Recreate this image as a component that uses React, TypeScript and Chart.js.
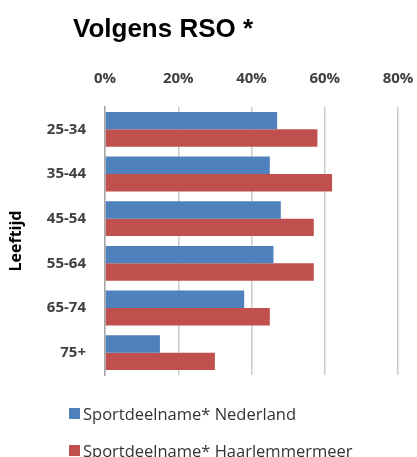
import React, { useEffect, useRef } from "react";
import { Chart, registerables } from "chart.js";

Chart.register(...registerables);

const title = "Volgens RSO *";
const axisTitle = "Leeftijd";
const categories = ["25-34", "35-44", "45-54", "55-64", "65-74", "75+"];
const nederland = [47, 45, 48, 46, 38, 15];
const haarlemmermeer = [58, 62, 57, 57, 45, 30];
const seriesNames = ["Sportdeelname* Nederland", "Sportdeelname* Haarlemmermeer"];
const seriesColors = ["#4F81BD", "#C0504D"];
const xMin = 0;
const xMax = 80;
const xStep = 20;

export default function App() {
  const ref = useRef<HTMLCanvasElement | null>(null);

  useEffect(() => {
    if (!ref.current) return;
    const chart = new Chart(ref.current, {
      type: "bar",
      data: {
        labels: categories,
        datasets: [
          {
            label: seriesNames[0],
            data: nederland,
            backgroundColor: seriesColors[0],
            categoryPercentage: 0.78,
            barPercentage: 1,
          },
          {
            label: seriesNames[1],
            data: haarlemmermeer,
            backgroundColor: seriesColors[1],
            categoryPercentage: 0.78,
            barPercentage: 1,
          },
        ],
      },
      options: {
        indexAxis: "y",
        animation: false,
        responsive: false,
        maintainAspectRatio: false,
        layout: { padding: { top: 70, right: 19, bottom: 82, left: 0 } },
        plugins: {
          legend: { display: false },
          title: { display: false },
          tooltip: { enabled: false },
        },
        scales: {
          x: {
            position: "top",
            min: xMin,
            max: xMax,
            ticks: {
              stepSize: xStep,
              callback: (v: any) => v + "%",
              font: { family: "'Open Sans'", size: 15, weight: "bold" },
              color: "#404040",
              padding: 0,
            },
            grid: {
              color: "#cbcbcb",
              lineWidth: 1.5,
              drawTicks: true,
              tickLength: 19,
              tickColor: "rgba(0,0,0,0)",
            },
            border: { display: false },
          },
          y: {
            ticks: {
              font: { family: "'Open Sans'", size: 15, weight: "bold" },
              color: "#404040",
              padding: 19,
            },
            grid: { display: false, drawTicks: false },
            border: { display: true, color: "#a6a6a6", width: 1.5 },
            title: {
              display: true,
              text: axisTitle,
              font: { family: "'Open Sans'", size: 16, weight: "bold" },
              color: "#000000",
              padding: { top: 7, bottom: 0 },
            },
            afterFit: (scale: any) => {
              scale.width = 105;
            },
          },
        },
      },
    });
    return () => chart.destroy();
  }, []);

  return (
    <div style={{ position: "absolute", left: 0, top: 0, width: 417, height: 457, background: "#fff" }}>
      <canvas ref={ref} width={417} height={457} style={{ position: "absolute", left: 0, top: 0 }} />
      <div
        style={{
          position: "absolute",
          left: 73,
          top: 15,
          fontFamily: "'Liberation Sans', Arial, sans-serif",
          fontWeight: "bold",
          fontSize: 26,
          lineHeight: 1,
          color: "#000",
          whiteSpace: "nowrap",
        }}
      >
        {title}
      </div>
      {seriesNames.map((name, i) => (
        <div
          key={name}
          style={{
            position: "absolute",
            left: 69,
            top: 403 + i * 37,
            height: 20,
            display: "flex",
            alignItems: "center",
            fontFamily: "'Open Sans', sans-serif",
            fontSize: 16.5,
            color: "#333",
            whiteSpace: "nowrap",
          }}
        >
          <span style={{ display: "inline-block", width: 11, height: 11, background: seriesColors[i], marginRight: 3 }} />
          <span>{name}</span>
        </div>
      ))}
    </div>
  );
}
